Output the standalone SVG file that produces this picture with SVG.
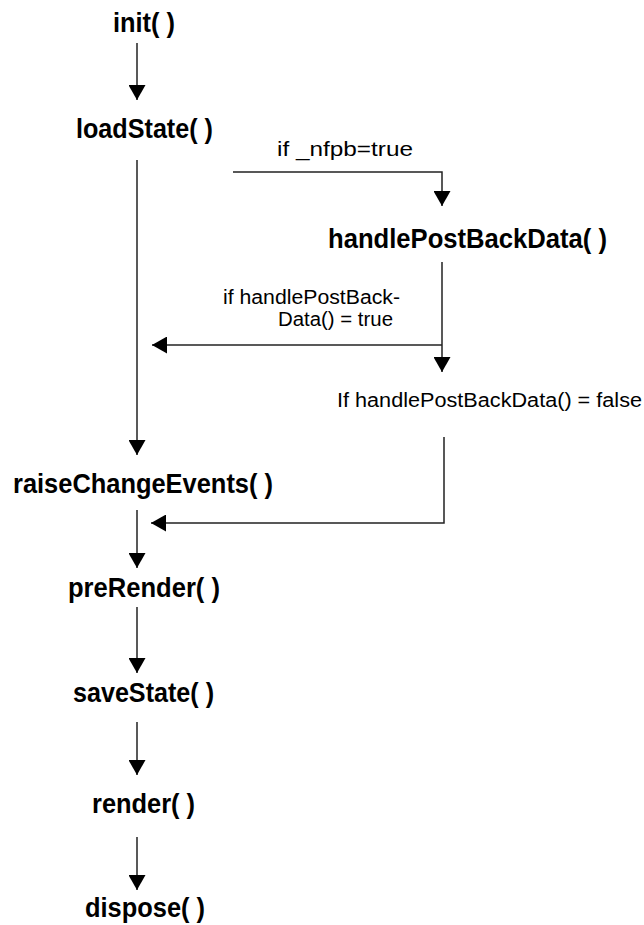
<svg xmlns="http://www.w3.org/2000/svg" width="644" height="925" viewBox="0 0 644 925">
<style>
.n{font-family:"Liberation Sans",Arial,sans-serif;font-weight:bold;font-size:28px;fill:#000}
.l{font-family:"Liberation Sans",Arial,sans-serif;font-size:20px;fill:#000}
.c{fill:none;stroke:#222;stroke-width:1.5}
</style>
<defs>
<marker id="ah" viewBox="0 0 15 17" refX="15" refY="8.5" markerWidth="15" markerHeight="17" orient="auto" markerUnits="userSpaceOnUse">
<path d="M0,0 L15,8.5 L0,17 z" fill="#000"/>
</marker>
</defs>
<rect width="644" height="925" fill="#fff"/>
<g id="init"><text class="n" x="113" y="32" textLength="62" lengthAdjust="spacingAndGlyphs">init( )</text></g>
<g id="loadState"><text class="n" x="76" y="138" textLength="137" lengthAdjust="spacingAndGlyphs">loadState( )</text></g>
<g id="handlePostBackData"><text class="n" x="328" y="248" textLength="279" lengthAdjust="spacingAndGlyphs">handlePostBackData( )</text></g>
<g id="raiseChangeEvents"><text class="n" x="13" y="493" textLength="260" lengthAdjust="spacingAndGlyphs">raiseChangeEvents(  )</text></g>
<g id="preRender"><text class="n" x="68" y="597" textLength="152" lengthAdjust="spacingAndGlyphs">preRender( )</text></g>
<g id="saveState"><text class="n" x="73" y="702" textLength="141" lengthAdjust="spacingAndGlyphs">saveState( )</text></g>
<g id="render"><text class="n" x="92" y="813" textLength="103" lengthAdjust="spacingAndGlyphs">render( )</text></g>
<g id="dispose"><text class="n" x="85" y="917" textLength="120" lengthAdjust="spacingAndGlyphs">dispose( )</text></g>
<g id="connectors">
<line class="c" x1="137" y1="43" x2="137" y2="100" marker-end="url(#ah)"/>
<line class="c" x1="137" y1="160" x2="137" y2="455" marker-end="url(#ah)"/>
<path class="c" d="M233,172 H442 V206" marker-end="url(#ah)"/>
<line class="c" x1="442" y1="262" x2="442" y2="372" marker-end="url(#ah)"/>
<line class="c" x1="442" y1="345" x2="152" y2="345" marker-end="url(#ah)"/>
<path class="c" d="M444,437 V523 H151" marker-end="url(#ah)"/>
<line class="c" x1="137" y1="510" x2="137" y2="568" marker-end="url(#ah)"/>
<line class="c" x1="137" y1="607" x2="137" y2="673" marker-end="url(#ah)"/>
<line class="c" x1="137" y1="722" x2="137" y2="775" marker-end="url(#ah)"/>
<line class="c" x1="137" y1="837" x2="137" y2="890" marker-end="url(#ah)"/>
<text class="l" x="277" y="156" textLength="136" lengthAdjust="spacingAndGlyphs">if _nfpb=true</text>
<text class="l" x="223" y="304" textLength="177" lengthAdjust="spacingAndGlyphs">if handlePostBack-</text>
<text class="l" x="278" y="326" textLength="115" lengthAdjust="spacingAndGlyphs">Data() = true</text>
<text class="l" x="337" y="407" textLength="305" lengthAdjust="spacingAndGlyphs">If handlePostBackData() = false</text>
</g>
</svg>
